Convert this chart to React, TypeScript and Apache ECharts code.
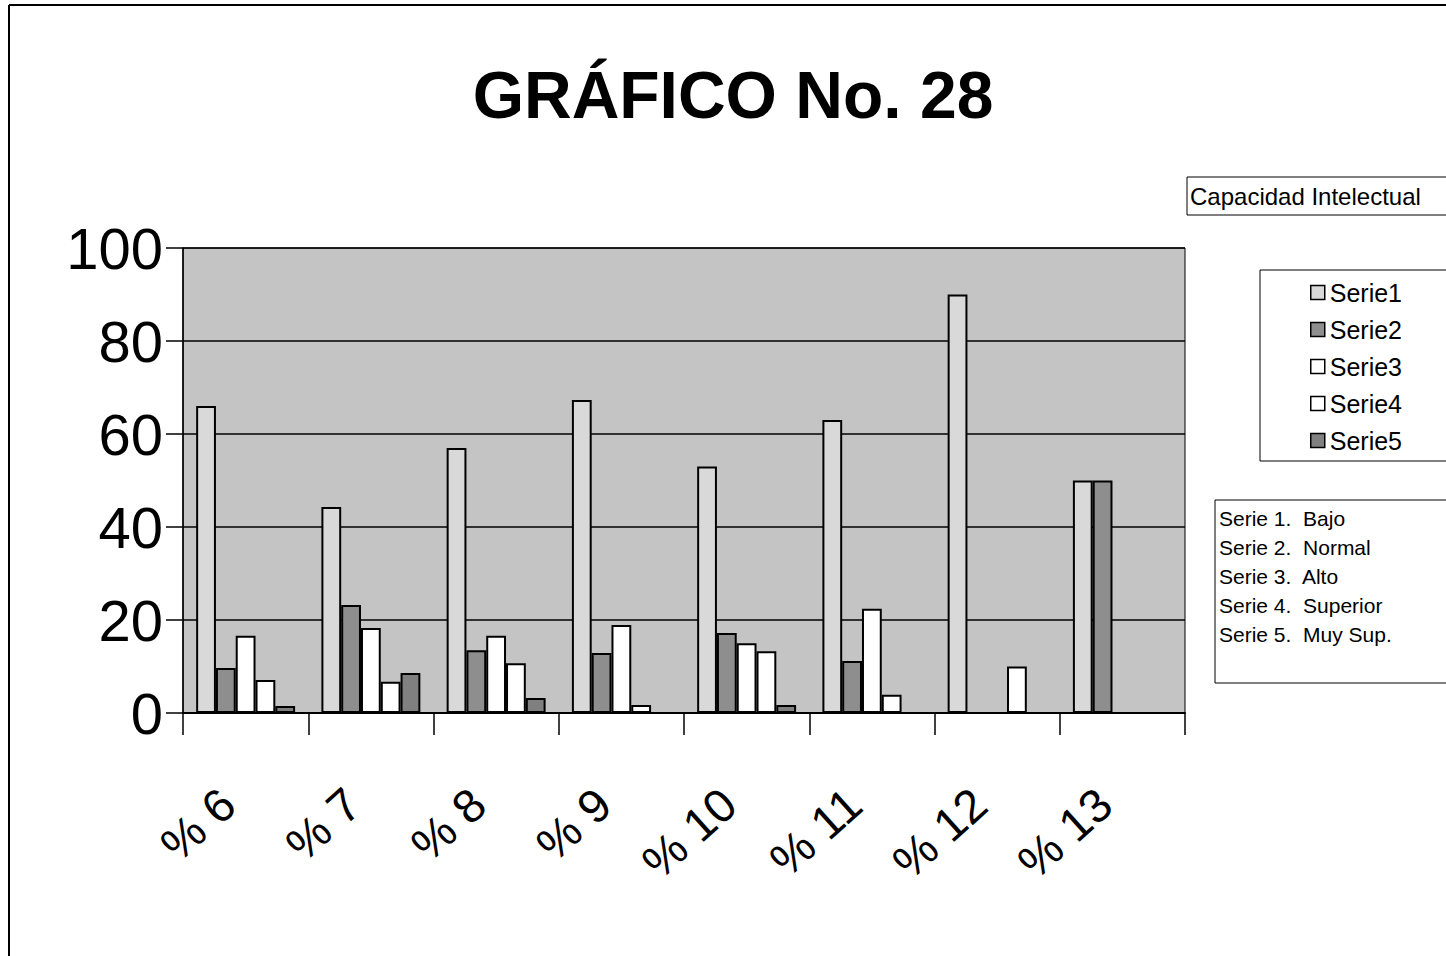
import React, { useEffect, useRef } from "react";
import * as echarts from "echarts";

const categories = ["6", "7", "8", "9", "10", "11", "12", "13"];
const seriesNames = ["Serie1", "Serie2", "Serie3", "Serie4", "Serie5"];
const serie1 = [66, 44.3, 57, 67.3, 53, 63, 90, 50];
const serie2 = [9.7, 23.2, 13.5, 12.9, 17.2, 11.2, 0, 50];
const serie3 = [16.6, 18.3, 16.6, 18.9, 15, 22.4, 0, 0];
const serie4 = [7.1, 6.7, 10.7, 1.7, 13.3, 3.9, 10, 0];
const serie5 = [1.5, 8.6, 3.2, 0, 1.7, 0, 0, 0];
const seriesValues = [serie1, serie2, serie3, serie4, serie5];
const seriesColors = ["#d9d9d9", "#8e8e8e", "#ffffff", "#ffffff", "#808080"];
const descLines = [
  "Serie 1.  Bajo",
  "Serie 2.  Normal",
  "Serie 3.  Alto",
  "Serie 4.  Superior",
  "Serie 5.  Muy Sup.",
];
const FONT = "'Liberation Sans', Arial, Helvetica, sans-serif";

export default function App() {
  const ref = useRef<HTMLDivElement>(null);
  useEffect(() => {
    if (!ref.current) return;
    const chart = echarts.init(ref.current, null, { renderer: "svg" });
    chart.setOption({
      animation: false,
      backgroundColor: "#ffffff",
      textStyle: { fontFamily: FONT },
      grid: { left: 183, top: 248, right: 261, bottom: 243, show: true, backgroundColor: "#c4c4c4", borderColor: "#000", borderWidth: 1 },
      legend: {
        data: seriesNames,
        orient: "vertical",
        left: 1305,
        top: 275,
        itemWidth: 14,
        itemHeight: 14,
        itemGap: 12,
        icon: "rect",
        itemStyle: { borderColor: "#000", borderWidth: 1.5 },
        textStyle: { fontSize: 25, color: "#000", fontFamily: FONT },
      },
      xAxis: {
        type: "category",
        data: categories,
        axisLine: { lineStyle: { color: "#000", width: 2 } },
        axisTick: { show: true, length: 22, lineStyle: { color: "#000", width: 1.5 } },
        axisLabel: {
          rotate: 42,
          margin: 68,
          padding: [0, 24, 0, 0],
          fontSize: 47,
          color: "#000",
          fontFamily: FONT,
          formatter: (v: string) => "% " + v,
        },
      },
      yAxis: {
        type: "value",
        min: 0,
        max: 100,
        interval: 20,
        axisLine: { show: true, lineStyle: { color: "#000", width: 1.5 } },
        axisTick: { show: true, length: 17, lineStyle: { color: "#000", width: 1.5 } },
        axisLabel: { fontSize: 58, color: "#000", margin: 20, fontFamily: FONT },
        splitLine: { lineStyle: { color: "#000", width: 1.5 } },
      },
      series: seriesNames.map((name, i) => ({
        name,
        type: "bar",
        data: seriesValues[i],
        barGap: "0%",
        barCategoryGap: "21%",
        itemStyle: { color: seriesColors[i], borderColor: "#000", borderWidth: 2 },
      })),
      graphic: [
        { type: "line", shape: { x1: 9, y1: 5, x2: 9, y2: 956 }, style: { stroke: "#000", lineWidth: 2 } },
        { type: "line", shape: { x1: 9, y1: 5, x2: 1446, y2: 5 }, style: { stroke: "#000", lineWidth: 2 } },
        {
          type: "text",
          x: 733,
          y: 95,
          style: { text: "GRÁFICO No. 28", fontSize: 66, fontWeight: "bold", fill: "#000", textAlign: "center", textVerticalAlign: "middle", fontFamily: FONT },
        },
        { type: "rect", shape: { x: 1187, y: 177, width: 270, height: 38 }, style: { fill: "#fff", stroke: "#000", lineWidth: 1 } },
        {
          type: "text",
          x: 1190,
          y: 196,
          style: { text: "Capacidad Intelectual", fontSize: 24, fill: "#000", textVerticalAlign: "middle", fontFamily: FONT },
        },
        { type: "rect", z: -1, shape: { x: 1260, y: 270, width: 200, height: 191 }, style: { fill: "#fff", stroke: "#000", lineWidth: 1 } },
        { type: "rect", shape: { x: 1215, y: 500, width: 240, height: 183 }, style: { fill: "#fff", stroke: "#000", lineWidth: 1 } },
        ...descLines.map((t, i) => ({
          type: "text",
          x: 1219,
          y: 518 + i * 29,
          style: { text: t, fontSize: 21, fill: "#000", textVerticalAlign: "middle", fontFamily: FONT },
        })),
      ],
    });
    return () => chart.dispose();
  }, []);
  return <div ref={ref} style={{ position: "fixed", left: 0, top: 0, width: 1446, height: 956 }} />;
}
